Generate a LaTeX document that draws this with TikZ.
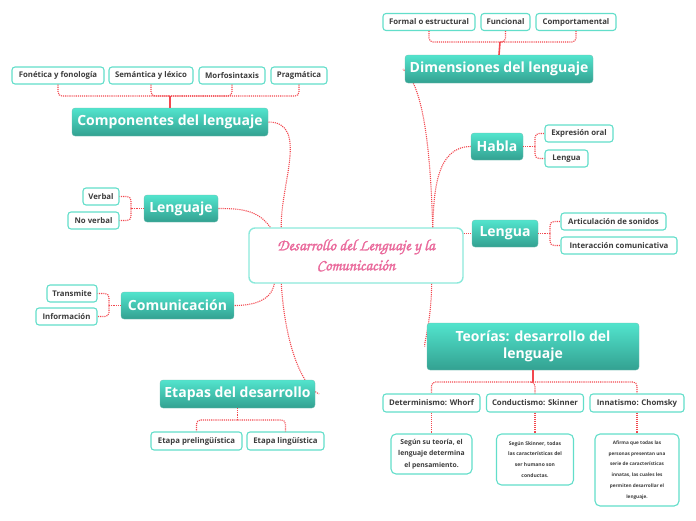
\documentclass[tikz,border=0pt]{standalone}
\usepackage{fontspec}
\setmainfont{Open Sans}
\newfontfamily\titlefont[FakeBold=1.6]{TeX Gyre Chorus}
\usetikzlibrary{backgrounds}
\definecolor{tealA}{HTML}{52E4CD}
\definecolor{tealB}{HTML}{33A191}
\definecolor{leafborder}{HTML}{62DECA}
\definecolor{centralborder}{HTML}{8CE9DB}
\definecolor{linkred}{HTML}{F2474E}
\definecolor{txt}{HTML}{3C3C3C}
\definecolor{pinktxt}{HTML}{EA6A9C}
\begin{document}
\begin{tikzpicture}[x=1pt,y=-1pt,
  mainbox/.style={rounded corners=3pt, top color=tealA, bottom color=tealB, draw=tealB!70, line width=0.3pt,
    text=white, font=\fontsize{14}{17}\selectfont\bfseries, align=center, inner sep=0pt},
  leaf/.style={rounded corners=3pt, fill=white, draw=leafborder, line width=1.1pt, text=txt,
    font=\fontsize{7.8}{9}\selectfont\bfseries, inner sep=0pt, minimum height=17},
  desc/.style={rounded corners=5pt, fill=white, draw=leafborder, line width=1.1pt, text=txt,
    align=center, inner sep=0pt},
  link/.style={draw=linkred, line width=1.1pt, densely dotted},
  stem/.style={draw=linkred, line width=1.6pt}]
\useasboundingbox (0,0) rectangle (696,520);

% ---------- main nodes ----------
\node[rounded corners=6pt, fill=white, draw=centralborder, line width=1.4pt, minimum width=214, minimum height=55,
  inner sep=0pt, align=center, text=pinktxt, font=\titlefont\fontsize{16}{20}\selectfont\bfseries] (central) at (356,255.5)
  {Desarrollo del Lenguaje y la\\Comunicación};

\node[mainbox, minimum width=196, minimum height=28] (comp) at (170,122) {Componentes del lenguaje};
\node[mainbox, minimum width=188, minimum height=28] (dim) at (499,69) {Dimensiones del lenguaje};
\node[mainbox, minimum width=52, minimum height=27] (habla) at (497,146.5) {Habla};
\node[mainbox, minimum width=66, minimum height=27] (lengua) at (505,233.5) {Lengua};
\node[mainbox, minimum width=212, minimum height=47] (teor) at (533,346.5) {Teorías: desarrollo del\\lenguaje};
\node[mainbox, minimum width=74, minimum height=27] (lenguaje) at (181,208.5) {Lenguaje};
\node[mainbox, minimum width=113, minimum height=27] (comun) at (177.5,305.5) {Comunicación};
\node[mainbox, minimum width=155, minimum height=28] (etapas) at (237.5,394) {Etapas del desarrollo};

% ---------- curves from the central node, beneath the nodes ----------
\begin{pgfonlayer}{background}
\draw[link] ([xshift=33pt]central.north west) to[out=92,in=0] (comp.east);
\draw[link] ([xshift=22pt]central.north west) to[out=125,in=0] (lenguaje.east);
\draw[link] ([xshift=26pt]central.south west) to[out=-100,in=0] (comun.east);
\draw[link] ([xshift=-31pt]central.north east) to[out=88,in=180] (habla.west);
\draw[link] (central.east |- lengua.west) -- (lengua.west);
\draw[link] ([xshift=-31pt]central.north east) .. controls (430,130) and (420,82) .. ([xshift=-2pt]dim.west);
\draw[link] ([xshift=-32pt]central.south east) .. controls (431,325) and (423,346) .. ([xshift=-2pt]teor.west);
\draw[link] ([xshift=33pt]central.south west) .. controls (285,345) and (302,386) .. ([xshift=4pt]etapas.east);
\end{pgfonlayer}

% ---------- leaves ----------
\node[leaf, minimum width=92] (fon) at (58,75.5) {Fonética y fonología};
\node[leaf, minimum width=84] (sem) at (151,75.5) {Semántica y léxico};
\node[leaf, minimum width=66] (morf) at (232,75.5) {Morfosintaxis};
\node[leaf, minimum width=56] (prag) at (299,75.5) {Pragmática};

\node[leaf, minimum width=92] (formal) at (429,22) {Formal o estructural};
\node[leaf, minimum width=49] (func) at (505.5,22) {Funcional};
\node[leaf, minimum width=80] (compor) at (576,22) {Comportamental};

\node[leaf, minimum width=68] (expr) at (579,133.5) {Expresión oral};
\node[leaf, minimum width=43] (lengh) at (566.5,158.5) {Lengua};
\node[leaf, minimum width=105] (artic) at (613.5,221.5) {Articulación de sonidos};
\node[leaf, minimum width=116] (inter) at (619,245.5) {Interacción comunicativa};

\node[leaf, minimum width=36] (verbal) at (101,196.5) {Verbal};
\node[leaf, minimum width=51] (noverbal) at (93.5,220.5) {No verbal};
\node[leaf, minimum width=50] (transm) at (72,293.5) {Transmite};
\node[leaf, minimum width=61] (info) at (66.5,316.5) {Información};

\node[leaf, minimum width=91, minimum height=18] (pre) at (196.5,441) {Etapa prelingüística};
\node[leaf, minimum width=77, minimum height=18] (ling) at (285.5,441) {Etapa lingüística};

\node[leaf, minimum width=97, minimum height=18] (whorf) at (431.5,403) {Determinismo: Whorf};
\node[leaf, minimum width=97, minimum height=18] (skin) at (535,403) {Conductismo: Skinner};
\node[leaf, minimum width=94, minimum height=18] (chom) at (637,403) {Innatismo: Chomsky};

\node[desc, minimum width=81, minimum height=40, font=\fontsize{6.8}{11.5}\selectfont\bfseries] (d1) at (431.5,454)
  {Según su teoría, el\\lenguaje determina\\el pensamiento.};
\node[desc, minimum width=77, minimum height=51, font=\fontsize{5}{10.8}\selectfont\bfseries] (d2) at (535,459.5)
  {Según Skinner, todas\\las características del\\ser humano son\\conductas.};
\node[desc, minimum width=84, minimum height=72, font=\fontsize{4.7}{10.8}\selectfont\bfseries] (d3) at (637,470)
  {Afirma que todas las\\personas presentan una\\serie de características\\innatas, las cuales les\\permiten desarrollar el\\lenguaje.};

% ---------- tree connectors ----------
\coordinate (jc) at (170,96);
\coordinate (jd) at (500,42);
\coordinate (jt) at (533,382);
\coordinate (je) at (237.5,420);

\draw[stem] (jc) -- (comp.north);
\foreach \n in {fon,sem,morf,prag} \draw[link, rounded corners=4pt] (\n.south) |- (jc);
\draw[stem] (jd) -- (dim.north);
\foreach \n in {formal,func,compor} \draw[link, rounded corners=4pt] (\n.south) |- (jd);
\draw[stem] (teor.south) -- (jt);
\foreach \n in {whorf,skin,chom} \draw[link, rounded corners=4pt] (jt) -| (\n.north);
\draw[link] (etapas.south) -- (je);
\foreach \n in {pre,ling} \draw[link, rounded corners=4pt] (je) -| (\n.north);
\draw[link] (whorf.south) -- (d1.north);
\draw[link] (skin.south) -- (d2.north);
\draw[link] (chom.south) -- (d3.north);

\coordinate (bh) at (535,146.5);
\draw[link] (habla.east) -- (bh);
\foreach \n in {expr,lengh} \draw[link, rounded corners=4pt] (bh) |- (\n.west);
\coordinate (bl) at (550,233.5);
\draw[link] (lengua.east) -- (bl);
\foreach \n in {artic,inter} \draw[link, rounded corners=4pt] (bl) |- (\n.west);
\coordinate (blj) at (131,208.5);
\draw[link] (lenguaje.west) -- (blj);
\foreach \n in {verbal,noverbal} \draw[link, rounded corners=4pt] (blj) |- (\n.east);
\coordinate (bcm) at (109,305.5);
\draw[link] (comun.west) -- (bcm);
\foreach \n in {transm,info} \draw[link, rounded corners=4pt] (bcm) |- (\n.east);
\end{tikzpicture}
\end{document}
